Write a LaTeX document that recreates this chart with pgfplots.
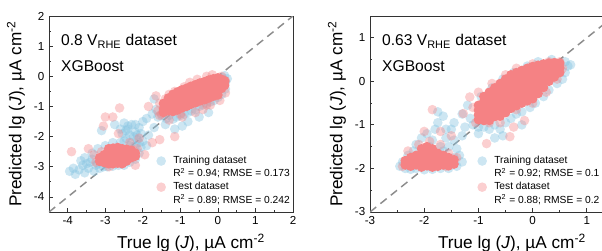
\documentclass[border=0pt]{standalone}
\usepackage{fontspec}
\setmainfont{Liberation Sans}
\usepackage{pgfplots}
\pgfplotsset{compat=1.18}
\definecolor{trainblue}{RGB}{135,196,225}
\definecolor{testpink}{RGB}{245,130,132}
\definecolor{dashgray}{RGB}{140,140,140}
\tikzset{
 train/.style={only marks, mark=*, mark size=3.6pt, color=trainblue, mark options={draw opacity=0, fill opacity=0.42}},
 testl/.style={only marks, mark=*, mark size=3.6pt, color=testpink, mark options={draw opacity=0, fill opacity=0.38}},
 testc/.style={only marks, mark=*, mark size=3.6pt, color=testpink, mark options={draw opacity=0, fill opacity=1}},
 blankimg/.style={only marks, mark=*, mark size=3.6pt, white, mark options={draw opacity=0, fill opacity=0}},
 idline/.style={dashgray, line width=1.1pt, dash pattern=on 6pt off 4pt},
 annot/.style={anchor=base west, inner sep=0pt, font=\fontsize{11.7}{13}\selectfont},
}
\pgfplotsset{
 panel/.style={
  scale only axis, width=183pt, height=147pt,
  axis line style={black!80, line width=0.6pt},
  tick align=inside, xtick pos=left, ytick pos=left,
  minor tick num=1,
  major tick length=3pt, minor tick length=1.6pt,
  tick style={black!80, line width=0.6pt},
  tick label style={font=\fontsize{8.7}{10}\selectfont},
  /pgf/number format/assume math mode=true,
  label style={font=\fontsize{12.9}{14}\selectfont},
  xlabel style={xshift=15pt},
  xlabel={True lg (\textit{J}), µA cm\textsuperscript{-2}},
  ylabel={Predicted lg (\textit{J}), µA cm\textsuperscript{-2}},
  legend style={draw=none, fill=none, font=\fontsize{7.7}{9}\selectfont, anchor=west, at={(0.439,0.16)},
    row sep=0pt, inner sep=0pt,
    nodes={text height=5.8pt, text depth=1.6pt, inner ysep=1.2pt},
    /tikz/every odd column/.style={column sep=3.5pt}},
  legend cell align=left,
 },
}
\begin{document}
\begin{tikzpicture}
% ---------------- Left panel: 0.8 V_RHE
\begin{axis}[panel, xmin=-4.5, xmax=2, ymin=-4.5, ymax=2, xtick={-4,...,2}, ytick={-4,...,2}]
\addplot[train, forget plot] coordinates {
(-1.75,-1.25) (-1.65,-1.1) (-1.6,-1.35) (-1.5,-1.3) (-1.45,-0.95) (-1.38,-1.4) (-1.3,-1.3) (-1.2,-0.85)
(-1.2,-1.42) (-1.1,-1.35) (-1.0,-0.7) (-1.0,-1.3) (-0.9,-1.25) (-0.8,-0.6) (-0.8,-1.2) (-0.7,-1.15)
(-0.6,-0.45) (-0.6,-1.1) (-0.5,-1.0) (-0.4,-0.35) (-0.4,-0.95) (-0.3,-0.9) (-0.2,-0.25) (-0.2,-0.85)
(-0.1,-0.8) (-0.05,-0.15) (0.0,-0.7) (0.1,-0.6) (0.18,0.02) (0.2,-0.2) (0.25,-0.08) (0.2,-0.42) (0.12,-0.05)
(-1.0,-0.8) (-0.6,-0.6) (-0.3,-0.4) (-0.8,-0.9)
(-1.15,-1.75) (-0.95,-1.65) (-0.8,-1.5) (-1.4,-1.6) (-0.25,-1.2) (-0.5,-1.35) (-1.9,-1.4) (-1.7,-0.75)
(-3.95,-3.15) (-3.85,-3.05) (-3.8,-3.25) (-3.7,-3.1) (-3.6,-2.95) (-3.55,-3.2) (-3.45,-3.05) (-3.4,-2.85)
(-3.3,-3.15) (-3.25,-2.95) (-3.15,-3.05) (-3.05,-3.0) (-2.95,-3.0) (-2.8,-2.98) (-2.65,-2.95) (-2.5,-2.95)
(-2.35,-2.85) (-2.2,-2.75) (-2.1,-2.55) (-2.05,-2.35) (-2.0,-2.15) (-2.15,-2.1) (-2.3,-2.2) (-2.45,-2.05)
(-2.55,-1.9) (-2.4,-1.75) (-2.3,-1.6) (-2.2,-1.85) (-2.1,-1.7) (-2.0,-1.5) (-2.6,-2.2) (-2.8,-2.2)
(-3.0,-2.3) (-3.2,-2.4) (-3.35,-2.55) (-3.55,-2.7) (-3.1,-1.8) (-2.75,-1.6) (-1.85,-1.95) (-1.9,-2.3)
(-1.7,-1.7) (-3.65,-2.8) (-2.5,-1.55) (-2.6,-1.75)
(-2.45,-1.8) (-2.35,-1.95) (-2.25,-2.0) (-2.15,-1.95) (-2.05,-1.9) (-2.35,-2.3) (-2.5,-2.15) (-2.2,-2.3)
(-2.1,-2.2) (-2.4,-1.65) (-2.2,-1.6) (-3.35,-2.75) (-3.5,-2.9) (-3.2,-2.9)
};
\addplot[idline, forget plot] coordinates {(-4.5,-4.5) (2,2)};
\addplot[testl, forget plot] coordinates {
(-3.9,-2.5) (-3.45,-2.4) (-3.3,-2.6) (-3.25,-2.85) (-3.0,-1.35) (-2.8,-1.35) (-2.62,-1.05) (-3.05,-1.65)
(-2.65,-1.9) (-2.35,-2.2) (-2.1,-2.05) (-1.75,-2.2) (-1.55,-2.1) (-1.15,-2.0) (-1.85,-1.0) (-1.65,-0.65)
(-1.55,-0.9) (-1.4,-0.75) (-1.5,-1.25) (-1.3,-1.45) (-0.95,-1.35) (-0.6,-1.2) (-0.2,-0.95) (0.05,-0.8)
(0.2,-0.55) (0.2,-0.15) (0.1,0.0) (-0.3,0.0) (-0.55,-0.1) (-0.9,-0.35) (-1.15,-0.5) (-1.3,-0.6)
(-2.2,-2.95) (-2.9,-3.0) (-3.1,-2.5) (-2.15,-2.4) (-2.25,-2.45) (-1.95,-2.6) (-0.4,-1.1)
(-1.6,-1.15) (-1.55,-1.3) (-0.75,-0.2) (-0.15,0.05) (-1.0,-1.25) (-0.3,-0.95)
};
\addplot[testc, forget plot] coordinates {
(-1.45,-0.9) (-1.45,-1.08) (-1.45,-1.2)
(-1.32,-0.72) (-1.32,-0.87) (-1.32,-1.02) (-1.32,-1.15)
(-1.2,-0.6) (-1.2,-0.75) (-1.2,-0.9) (-1.2,-1.05) (-1.2,-1.17)
(-1.08,-0.52) (-1.08,-0.67) (-1.08,-0.82) (-1.08,-0.97) (-1.08,-1.12)
(-0.96,-0.45) (-0.96,-0.6) (-0.96,-0.75) (-0.96,-0.9) (-0.96,-1.05)
(-0.84,-0.4) (-0.84,-0.55) (-0.84,-0.7) (-0.84,-0.85) (-0.84,-1.0)
(-0.72,-0.33) (-0.72,-0.48) (-0.72,-0.63) (-0.72,-0.78) (-0.72,-0.93)
(-0.6,-0.28) (-0.6,-0.43) (-0.6,-0.58) (-0.6,-0.73) (-0.6,-0.88)
(-0.48,-0.22) (-0.48,-0.37) (-0.48,-0.52) (-0.48,-0.67) (-0.48,-0.82)
(-0.36,-0.18) (-0.36,-0.33) (-0.36,-0.48) (-0.36,-0.63) (-0.36,-0.78)
(-0.24,-0.12) (-0.24,-0.27) (-0.24,-0.42) (-0.24,-0.57) (-0.24,-0.72)
(-0.12,-0.08) (-0.12,-0.23) (-0.12,-0.38) (-0.12,-0.53) (-0.12,-0.66)
(0,-0.05) (0,-0.2) (0,-0.35) (0,-0.5) (0,-0.62)
(0.1,-0.1) (0.1,-0.25) (0.1,-0.4) (0.18,-0.15) (0.18,-0.3)
(-3.15,-2.7) (-3.15,-2.82)
(-3.03,-2.6) (-3.03,-2.73) (-3.03,-2.86)
(-2.91,-2.4) (-2.91,-2.53) (-2.91,-2.66) (-2.91,-2.79) (-2.91,-2.9)
(-2.79,-2.38) (-2.79,-2.51) (-2.79,-2.64) (-2.79,-2.77) (-2.79,-2.9)
(-2.67,-2.36) (-2.67,-2.49) (-2.67,-2.62) (-2.67,-2.75) (-2.67,-2.88)
(-2.55,-2.4) (-2.55,-2.53) (-2.55,-2.66) (-2.55,-2.79) (-2.55,-2.9)
(-2.43,-2.42) (-2.43,-2.55) (-2.43,-2.68) (-2.43,-2.81)
(-2.31,-2.45) (-2.31,-2.58) (-2.31,-2.7)
(-2.2,-2.55) (-2.2,-2.65)
};
\node[annot] at (rel axis cs:0.049,0.847) {0.8 V\textsubscript{RHE} dataset};
\node[annot] at (rel axis cs:0.049,0.719) {XGBoost};
\addlegendimage{train}
\addlegendentry{Training dataset}
\addlegendimage{blankimg}
\addlegendentry{R\textsuperscript{2} = 0.94; RMSE = 0.173}
\addlegendimage{testl}
\addlegendentry{Test dataset}
\addlegendimage{blankimg}
\addlegendentry{R\textsuperscript{2} = 0.89; RMSE = 0.242}
\end{axis}
% ---------------- Right panel: 0.63 V_RHE
\begin{axis}[panel, at={(240.75pt,0pt)}, xmin=-3, xmax=1.5, ymin=-3, ymax=1.5, xtick={-3,...,1}, ytick={-3,...,1}]
\addplot[train, forget plot] coordinates {
(-2.45,-1.95) (-2.4,-1.85) (-2.35,-2.0) (-2.25,-2.02) (-2.15,-2.0) (-2.0,-2.03) (-1.85,-2.02) (-1.7,-2.0)
(-1.55,-2.0) (-1.4,-1.95) (-1.3,-1.85) (-1.35,-1.7) (-2.3,-1.7) (-2.2,-1.6) (-2.15,-1.45) (-2.05,-1.3)
(-1.95,-1.2) (-1.85,-1.35) (-1.8,-1.1) (-1.75,-0.95) (-1.65,-0.8) (-1.6,-1.3) (-1.55,-1.5) (-1.45,-1.35)
(-1.5,-1.1) (-1.4,-1.55) (-1.7,-1.5) (-2.0,-1.55) (-1.3,-1.25) (-1.75,-0.7)
(-1.3,-0.75) (-1.2,-0.55) (-1.15,-0.85) (-1.1,-1.0) (-1.0,-1.05) (-0.95,-0.35) (-0.9,-1.05) (-0.8,-1.1)
(-0.75,-0.15) (-0.7,-1.0) (-0.6,-1.1) (-0.55,0.05) (-0.5,-0.95) (-0.4,-0.85) (-0.35,0.2) (-0.3,-0.75)
(-0.2,-0.7) (-0.1,0.35) (-0.05,-0.6) (0.05,-0.5) (0.1,0.45) (0.2,-0.35) (0.3,-0.2) (0.35,0.5)
(0.45,-0.05) (0.55,0.05) (0.6,0.2) (0.65,0.35) (0.6,0.45) (0.7,0.38) (-0.7,-1.3) (-0.55,-1.25)
(-1.0,-1.2) (-0.2,-1.0) (-0.95,-0.7) (-0.5,-0.4) (0.0,0.0)
(-1.6,-1.1) (-1.45,-0.95) (-1.9,-1.5) (-1.65,-1.6) (-1.25,-1.05) (-1.45,-1.75)
};
\addplot[idline, forget plot] coordinates {(-3,-3) (1.5,1.5)};
\addplot[testl, forget plot] coordinates {
(-2.4,-1.95) (-2.3,-1.6) (-2.1,-1.45) (-1.9,-1.38) (-1.7,-1.45) (-1.55,-1.65) (-1.4,-1.75) (-1.6,-1.95)
(-2.0,-1.15) (-1.7,-1.15) (-1.5,-1.25) (-1.85,-0.65) (-1.28,-0.74) (-1.16,-0.36) (-1.1,-0.6) (-1.05,-0.95)
(-0.85,-1.43) (-0.42,-1.27) (-0.35,-1.05) (-0.6,-0.95) (-1.0,-0.25) (-0.75,-0.05) (-0.5,0.15) (-0.3,0.3)
(0.0,0.4) (0.3,0.45) (0.5,0.45) (0.55,0.3) (0.45,0.05) (0.25,-0.25) (0.0,-0.5) (-0.3,-0.65)
(-0.8,-0.95) (-0.15,-0.9)
};
\addplot[testc, forget plot] coordinates {
(-1.0,-0.55) (-1.0,-0.66) (-1.0,-0.77) (-1.0,-0.88)
(-0.9,-0.35) (-0.9,-0.46) (-0.9,-0.57) (-0.9,-0.68) (-0.9,-0.79) (-0.9,-0.9)
(-0.8,-0.25) (-0.8,-0.36) (-0.8,-0.47) (-0.8,-0.58) (-0.8,-0.69) (-0.8,-0.8) (-0.8,-0.9)
(-0.7,-0.15) (-0.7,-0.26) (-0.7,-0.37) (-0.7,-0.48) (-0.7,-0.59) (-0.7,-0.7) (-0.7,-0.81)
(-0.6,-0.05) (-0.6,-0.16) (-0.6,-0.27) (-0.6,-0.38) (-0.6,-0.49) (-0.6,-0.6) (-0.6,-0.71) (-0.6,-0.8)
(-0.5,0.05) (-0.5,-0.06) (-0.5,-0.17) (-0.5,-0.28) (-0.5,-0.39) (-0.5,-0.5) (-0.5,-0.61) (-0.5,-0.72)
(-0.4,0.15) (-0.4,0.04) (-0.4,-0.07) (-0.4,-0.18) (-0.4,-0.29) (-0.4,-0.4) (-0.4,-0.51) (-0.4,-0.62)
(-0.3,0.2) (-0.3,0.09) (-0.3,-0.02) (-0.3,-0.13) (-0.3,-0.24) (-0.3,-0.35) (-0.3,-0.46) (-0.3,-0.56)
(-0.2,0.25) (-0.2,0.14) (-0.2,0.03) (-0.2,-0.08) (-0.2,-0.19) (-0.2,-0.3) (-0.2,-0.41) (-0.2,-0.5)
(-0.1,0.3) (-0.1,0.19) (-0.1,0.08) (-0.1,-0.03) (-0.1,-0.14) (-0.1,-0.25) (-0.1,-0.36) (-0.1,-0.45)
(0.0,0.34) (0.0,0.23) (0.0,0.12) (0.0,0.01) (0.0,-0.1) (0.0,-0.21) (0.0,-0.32) (0.0,-0.4)
(0.1,0.37) (0.1,0.26) (0.1,0.15) (0.1,0.04) (0.1,-0.07) (0.1,-0.18) (0.1,-0.28)
(0.2,0.4) (0.2,0.29) (0.2,0.18) (0.2,0.07) (0.2,-0.04) (0.2,-0.14)
(0.3,0.42) (0.3,0.31) (0.3,0.2) (0.3,0.09) (0.3,0.0)
(0.4,0.43) (0.4,0.32) (0.4,0.21) (0.4,0.1)
(0.5,0.42) (0.5,0.31) (0.5,0.2)
(-2.35,-1.82) (-2.35,-1.92)
(-2.25,-1.75) (-2.25,-1.86) (-2.25,-1.95)
(-2.15,-1.7) (-2.15,-1.81) (-2.15,-1.92)
(-2.05,-1.55) (-2.05,-1.66) (-2.05,-1.77) (-2.05,-1.88) (-2.05,-1.97)
(-1.95,-1.5) (-1.95,-1.61) (-1.95,-1.72) (-1.95,-1.83) (-1.95,-1.94)
(-1.85,-1.55) (-1.85,-1.66) (-1.85,-1.77) (-1.85,-1.88) (-1.85,-1.97)
(-1.75,-1.65) (-1.75,-1.76) (-1.75,-1.87) (-1.75,-1.95)
(-1.65,-1.7) (-1.65,-1.81) (-1.65,-1.92)
(-1.55,-1.75) (-1.55,-1.86) (-1.55,-1.94)
(-1.45,-1.8) (-1.45,-1.9)
};
\node[annot] at (rel axis cs:0.049,0.847) {0.63 V\textsubscript{RHE} dataset};
\node[annot] at (rel axis cs:0.049,0.719) {XGBoost};
\addlegendimage{train}
\addlegendentry{Training dataset}
\addlegendimage{blankimg}
\addlegendentry{R\textsuperscript{2} = 0.92; RMSE = 0.1}
\addlegendimage{testl}
\addlegendentry{Test dataset}
\addlegendimage{blankimg}
\addlegendentry{R\textsuperscript{2} = 0.88; RMSE = 0.2}
\end{axis}
\pgfresetboundingbox
\path[use as bounding box] (-36.75pt,-28.5pt) rectangle (414.75pt,159pt);
\end{tikzpicture}
\end{document}
